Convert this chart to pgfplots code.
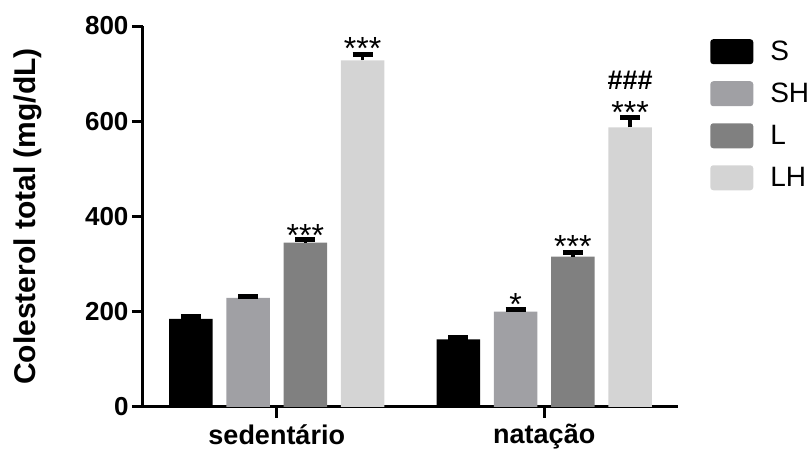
\documentclass[border=0pt]{standalone}
\usepackage{pgfplots}
\pgfplotsset{compat=1.18}
\usepackage{fontspec}
\setmainfont{Liberation Sans}

\definecolor{cS}{HTML}{000000}
\definecolor{cSH}{HTML}{A0A0A4}
\definecolor{cL}{HTML}{808080}
\definecolor{cLH}{HTML}{D4D4D4}

\newcommand{\lgap}{\hspace*{15pt}}

\begin{document}
\begin{tikzpicture}[x=1pt,y=1pt]
\path[use as bounding box] (-143,-45) rectangle (668,407);
\begin{axis}[
  at={(0,0)}, anchor=south west,
  scale only axis, width=535pt, height=381pt,
  xmin=-0.5, xmax=1.5, ymin=0, ymax=800,
  ybar,
  axis lines*=left,
  axis line style={line width=3pt},
  tick align=outside,
  major tick length=11pt,
  every tick/.style={line width=3pt, black},
  xtick={0,1},
  xticklabels={sedentário, natação},
  ytick={0,200,400,600,800},
  /pgf/number format/assume math mode=true,
  yticklabel style={font=\bfseries\fontsize{26}{28}\selectfont},
  xticklabel style={font=\bfseries\fontsize{27}{30}\selectfont, yshift=-3pt},
  ylabel={Colesterol total (mg/dL)},
  ylabel style={font=\bfseries\fontsize{30}{34}\selectfont,
    at={(axis description cs:-0.215,0.5)}, anchor=center},
  legend cell align=left,
  legend style={at={(1.06,0.966)}, anchor=north west, draw=none, fill=none,
    font=\fontsize{28}{30}\selectfont, row sep=17pt, inner sep=0pt},
  legend image code/.code={\fill[#1, rounded corners=3pt] (0pt,-12.5pt) rectangle (43pt,12.5pt);},
  error bars/y dir=plus,
  error bars/y explicit,
  error bars/error bar style={line width=3.5pt, black},
  error bars/error mark options={rotate=90, mark size=10pt, line width=5pt, black},
]
% S
\addplot[fill=cS, draw=none, bar width=0.162, bar shift=-0.321]
  coordinates {(0,185) +- (0,4) (1,142) +- (0,3)};
% SH
\addplot[fill=cSH, draw=none, bar width=0.162, bar shift=-0.107]
  coordinates {(0,229) +- (0,4) (1,200) +- (0,5)};
% L
\addplot[fill=cL, draw=none, bar width=0.162, bar shift=0.107]
  coordinates {(0,345) +- (0,6) (1,316) +- (0,9)};
% LH
\addplot[fill=cLH, draw=none, bar width=0.162, bar shift=0.321]
  coordinates {(0,728) +- (0,12) (1,587) +- (0,21)};
\legend{\lgap S,\lgap SH,\lgap L,\lgap LH}

% significance marks
\begin{scope}[every node/.style={font=\fontsize{32}{34}\selectfont, inner sep=0pt}]
\node[anchor=base] at (axis cs:0.107,337) {***};
\node[anchor=base] at (axis cs:0.321,729) {***};
\node[anchor=base] at (axis cs:0.893,193) {*};
\node[anchor=base] at (axis cs:1.107,314) {***};
\node[anchor=base] at (axis cs:1.321,595) {***};
\node[anchor=base, font=\bfseries\fontsize{27}{30}\selectfont] at (axis cs:1.321,667) {\#\#\#};
\end{scope}
\end{axis}
\end{tikzpicture}
\end{document}
